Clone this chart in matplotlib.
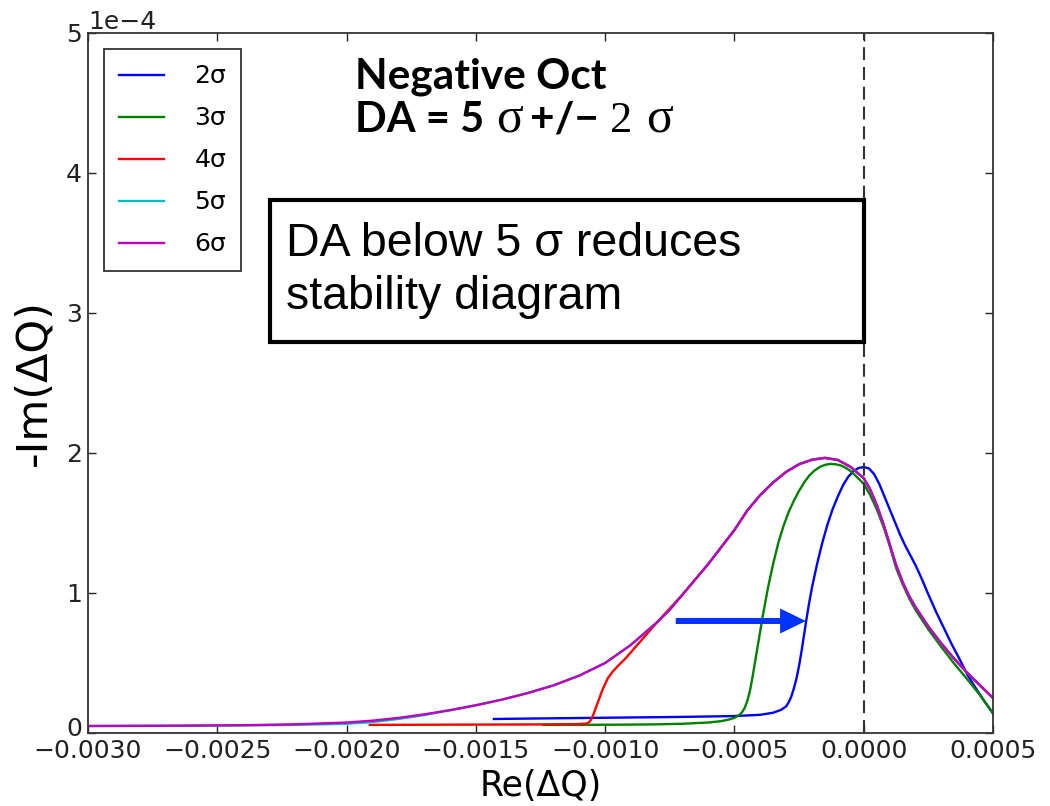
import numpy as np
import matplotlib
matplotlib.use("Agg")
import matplotlib.pyplot as plt
from matplotlib.patches import Rectangle
from matplotlib.transforms import ScaledTranslation

# Re(dQ) and -Im(dQ) [units of 1e-4] for each dynamic aperture
re_2s = [-0.00143, -0.0013, -0.0011, -0.0009, -0.0007, -0.0005, -0.0004, -0.00035, -0.00032,
         -0.0003, -0.00029, -0.00028, -0.00027, -0.00026, -0.00025, -0.00024, -0.00023,
         -0.00022, -0.00021, -0.0002, -0.00018, -0.00016, -0.00014, -0.00012, -0.0001,
         -0.00008, -0.00006, -0.00004, -0.00002, 0.0, 0.00002, 0.00004, 0.00006, 0.00008,
         0.0001, 0.00012, 0.00014, 0.00016, 0.00018, 0.0002, 0.00022, 0.00025, 0.00028,
         0.00031, 0.00034, 0.00037, 0.0004, 0.00043, 0.00046, 0.0005]
im_2s = [0.100, 0.103, 0.107, 0.111, 0.115, 0.121, 0.13, 0.145, 0.165,
         0.19, 0.22, 0.26, 0.32, 0.39, 0.48, 0.59, 0.71,
         0.83, 0.94, 1.04, 1.21, 1.36, 1.49, 1.60, 1.69,
         1.77, 1.83, 1.87, 1.893, 1.90, 1.89, 1.85, 1.78, 1.69,
         1.60, 1.51, 1.42, 1.34, 1.27, 1.20, 1.12, 0.99, 0.865,
         0.75, 0.635, 0.53, 0.42, 0.33, 0.245, 0.14]

re_3s = [-0.00124, -0.0011, -0.0010, -0.0009, -0.0008, -0.0007, -0.0006, -0.00055, -0.00052,
         -0.0005, -0.00048, -0.00047, -0.00046, -0.00045, -0.00044, -0.00043, -0.00042,
         -0.00041, -0.0004, -0.00039, -0.00038, -0.00037, -0.00035, -0.00033, -0.00031,
         -0.00029, -0.00027, -0.00025, -0.00023, -0.00021, -0.00019, -0.00017, -0.00015,
         -0.00013, -0.00011, -0.00009, -0.00007, -0.00005, -0.00003, 0.0, 0.000025, 0.00005,
         0.000075, 0.0001, 0.000125, 0.00015, 0.000175, 0.0002, 0.00025, 0.0003, 0.00035,
         0.0004, 0.00045, 0.0005]
im_3s = [0.058, 0.058, 0.059, 0.060, 0.062, 0.066, 0.075, 0.085, 0.097,
         0.108, 0.13, 0.15, 0.18, 0.23, 0.30, 0.40, 0.51,
         0.62, 0.73, 0.84, 0.94, 1.04, 1.21, 1.36, 1.48,
         1.58, 1.66, 1.73, 1.79, 1.84, 1.875, 1.90, 1.915,
         1.922, 1.92, 1.912, 1.895, 1.87, 1.835, 1.78, 1.70, 1.60,
         1.48, 1.34, 1.18, 1.065, 0.965, 0.88, 0.74, 0.615, 0.495,
         0.385, 0.27, 0.14]

re_4s = [-0.00191, -0.0017, -0.0015, -0.0013, -0.0012, -0.0011, -0.00107, -0.00106, -0.00105,
         -0.00104, -0.00103, -0.00102, -0.00101, -0.001, -0.00099, -0.00097, -0.00095, -0.00092,
         -0.00088, -0.00083, -0.00078, -0.00073, -0.0007, -0.00065, -0.0006, -0.00055,
         -0.0005, -0.00045, -0.0004, -0.00035, -0.0003, -0.00025, -0.0002, -0.00015, -0.0001,
         -0.00005, 0.0, 0.000025, 0.00005, 0.000075, 0.0001, 0.000125, 0.00015, 0.000175,
         0.0002, 0.00025, 0.0003, 0.00035, 0.0004, 0.00045, 0.0005]
im_4s = [0.058, 0.059, 0.060, 0.061, 0.062, 0.064, 0.068, 0.08, 0.11,
         0.16, 0.21, 0.26, 0.31, 0.35, 0.39, 0.44, 0.48, 0.535,
         0.62, 0.725, 0.83, 0.93, 0.99, 1.10, 1.21, 1.33,
         1.45, 1.59, 1.70, 1.79, 1.865, 1.92, 1.952, 1.965, 1.95,
         1.90, 1.82, 1.74, 1.63, 1.50, 1.35, 1.20, 1.08, 0.98,
         0.90, 0.76, 0.64, 0.53, 0.43, 0.34, 0.25]

re_6s = [-0.0030, -0.0028, -0.0026, -0.0024, -0.0022, -0.0020, -0.0019, -0.0018, -0.0017,
         -0.0016, -0.0015, -0.0014, -0.0013, -0.0012, -0.0011, -0.0010, -0.0009, -0.0008,
         -0.00075, -0.0007, -0.00065, -0.0006, -0.00055, -0.0005, -0.00045, -0.0004,
         -0.00035, -0.0003, -0.00025, -0.0002, -0.00015, -0.0001, -0.00005, 0.0, 0.000025,
         0.00005, 0.000075, 0.0001, 0.000125, 0.00015, 0.000175, 0.0002, 0.00025, 0.0003,
         0.00035, 0.0004, 0.00045, 0.0005]
im_6s = [0.050, 0.051, 0.053, 0.056, 0.062, 0.075, 0.088, 0.108, 0.133,
         0.163, 0.198, 0.238, 0.285, 0.340, 0.410, 0.50, 0.63, 0.79,
         0.88, 0.99, 1.10, 1.21, 1.33, 1.45, 1.59, 1.70,
         1.79, 1.865, 1.92, 1.952, 1.965, 1.95, 1.90, 1.82, 1.74,
         1.63, 1.50, 1.35, 1.20, 1.08, 0.98, 0.90, 0.76, 0.64,
         0.53, 0.43, 0.34, 0.25]

re_5s = re_6s
im_5s = [0.050, 0.051, 0.052, 0.054, 0.058, 0.066, 0.078, 0.100, 0.128,
         0.163, 0.198, 0.238, 0.285, 0.340, 0.410, 0.50, 0.63, 0.79,
         0.88, 0.99, 1.10, 1.21, 1.33, 1.45, 1.59, 1.70,
         1.79, 1.865, 1.92, 1.952, 1.965, 1.95, 1.90, 1.82, 1.74,
         1.63, 1.50, 1.35, 1.20, 1.08, 0.98, 0.90, 0.76, 0.64,
         0.53, 0.43, 0.34, 0.25]

series = [
    ("2σ", re_2s, im_2s, "b"),
    ("3σ", re_3s, im_3s, "g"),
    ("4σ", re_4s, im_4s, "r"),
    ("5σ", re_5s, im_5s, "c"),
    ("6σ", re_6s, im_6s, "m"),
]
x_ticks = [-0.0030, -0.0025, -0.0020, -0.0015, -0.0010, -0.0005, 0.0, 0.0005]
y_ticks = [0, 1, 2, 3, 4, 5]
arrow_y = 0.8
arrow_x = (-0.000727, -0.000224)

W, H = 1050, 806


def fx(px):
    return px / W


def fy(py):
    return 1 - py / H


fig = plt.figure(figsize=(10.5, 8.06), dpi=100)
ax = fig.add_axes([fx(88), fy(733), fx(993) - fx(88), fy(33) - fy(733)])

for label, xs, ys, c in series:
    ax.plot(xs, np.array(ys) * 1e-4, color=c, lw=1.7, label=label)

ax.axvline(0.0, color="#333333", lw=1.5, dashes=(6.2, 3.3))

ax.annotate("", xy=(arrow_x[1], arrow_y * 1e-4), xytext=(arrow_x[0], arrow_y * 1e-4),
            arrowprops=dict(arrowstyle="simple,head_length=18.5,head_width=18,tail_width=4.3",
                            mutation_scale=1, color="#0033ff", shrinkA=0, shrinkB=0, lw=0))

ax.set_xlim(-0.003, 0.0005)
ax.set_ylim(0, 5e-4)
ax.set_xticks(x_ticks)
ax.set_yticks(np.array(y_ticks) * 1e-4)
ax.ticklabel_format(axis="y", style="sci", scilimits=(0, 0))
ax.tick_params(direction="in", top=True, right=True, length=6, width=1,
               labelsize=18, colors="#222222", pad=4.5)
ax.yaxis.get_offset_text().set_fontsize(18)
for s in ax.spines.values():
    s.set_color("#333333")
    s.set_linewidth(1.3)

# lift the "0" label a little so it clears the first x label
zero_lbl = ax.yaxis.get_major_ticks()[0].label1
zero_lbl.set_transform(zero_lbl.get_transform() + ScaledTranslation(0, 5 / 72, fig.dpi_scale_trans))

ax.set_xlabel("Re(ΔQ)", fontsize=25, labelpad=4)
ax.set_ylabel("-Im(ΔQ)", fontsize=31, labelpad=8)

leg = ax.legend(loc="upper left", fontsize=18, frameon=True, fancybox=False,
                borderpad=0.6, labelspacing=0.72, handlelength=1.8, handletextpad=1.2,
                borderaxespad=0.65, framealpha=1)
leg.get_frame().set_edgecolor("#333333")
leg.get_frame().set_linewidth(1.3)

# title-like annotation
fig.text(fx(355), fy(88), "Negative Oct", family="Lato", weight="bold", fontsize=30.5,
         va="baseline", ha="left")
fig.text(fx(355), fy(132), "DA = 5", family="Lato", weight="bold", fontsize=30,
         va="baseline", ha="left")
fig.text(fx(496), fy(132), "σ", family="Liberation Serif", fontsize=36, va="baseline", ha="left")
fig.text(fx(530), fy(132), "+/−", family="Lato", weight="bold", fontsize=30.5,
         va="baseline", ha="left")
fig.text(fx(610), fy(132), "2", family="Liberation Serif", fontsize=32, va="baseline", ha="left")
fig.text(fx(646), fy(132), "σ", family="Liberation Serif", fontsize=36, va="baseline", ha="left")

# boxed note
fig.add_artist(Rectangle((fx(270), fy(342)), fx(864) - fx(270), fy(200) - fy(342),
                         transform=fig.transFigure, fill=False, ec="black", lw=3))
fig.text(fx(286), fy(256), "DA below 5 σ reduces", family="Liberation Sans", fontsize=33.5,
         va="baseline", ha="left")
fig.text(fx(286), fy(309), "stability diagram", family="Liberation Sans", fontsize=33.5,
         va="baseline", ha="left")

fig.savefig("out.png", dpi=100)
